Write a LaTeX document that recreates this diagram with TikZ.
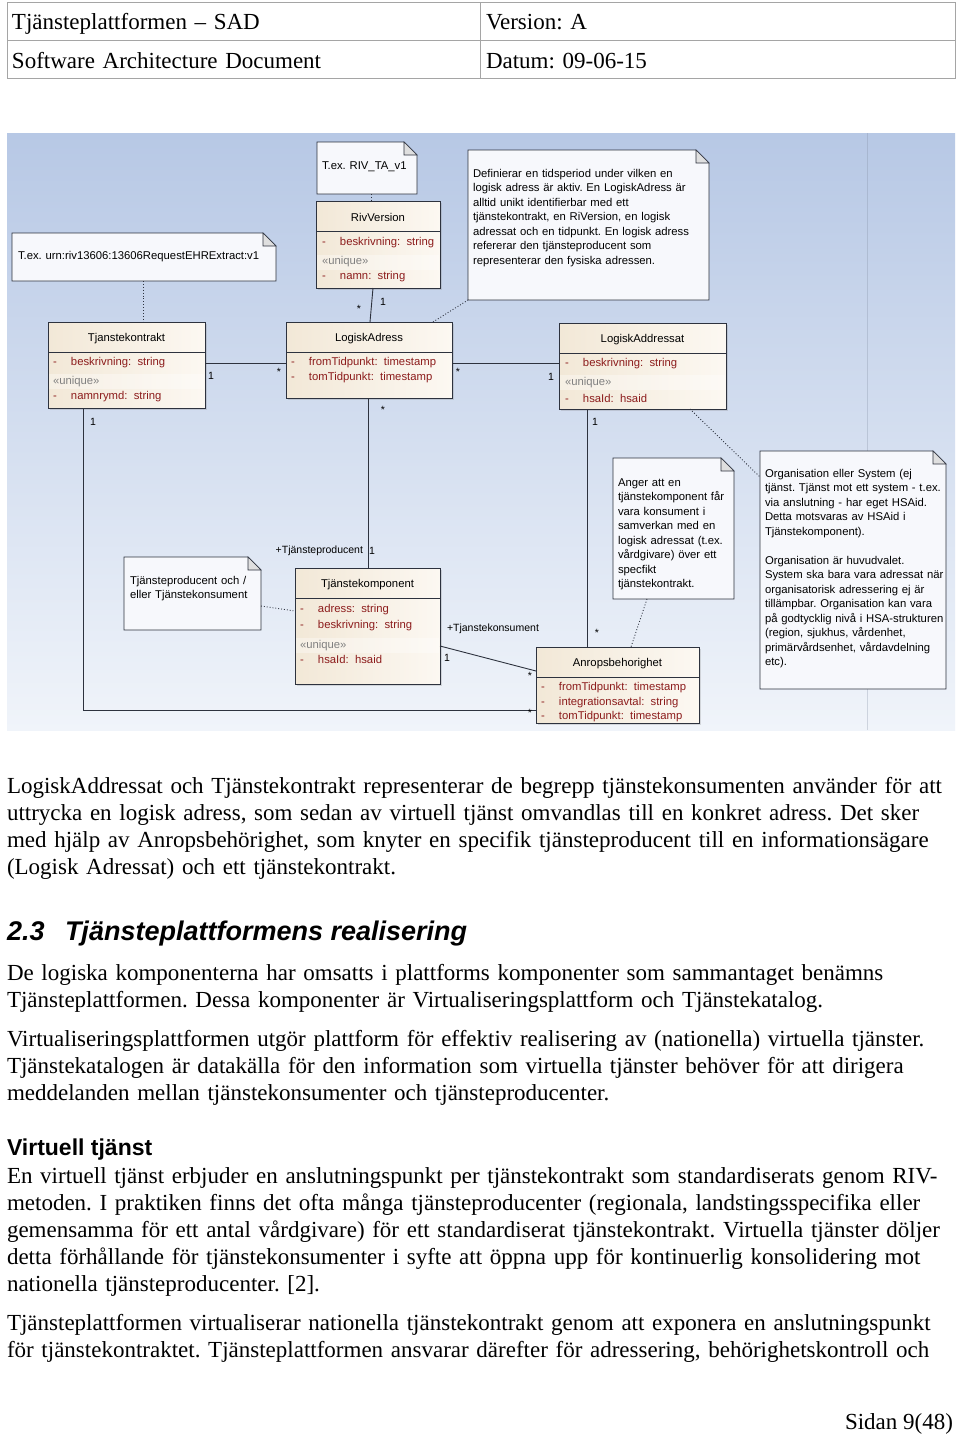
\documentclass[tikz,border=0pt]{standalone}
\usepackage{fontspec}
\setmainfont{Liberation Serif}
\setsansfont{Liberation Sans}
\usetikzlibrary{positioning, shadows}

\definecolor{bgtop}{RGB}{183,200,229}
\definecolor{bgbot}{RGB}{240,244,250}
\definecolor{classa}{RGB}{242,232,215}
\definecolor{classb}{RGB}{252,248,242}
\definecolor{attrred}{RGB}{140,28,28}
\definecolor{notefill}{RGB}{247,248,252}
\definecolor{linecol}{RGB}{45,50,62}
\definecolor{tablegray}{RGB}{165,165,165}

\begin{document}
\frenchspacing
\begin{tikzpicture}[x=1pt, y=-1pt,
    every node/.style={inner sep=0pt, outer sep=0pt},
    body/.style={font=\frenchspacing\fontsize{23}{27}\selectfont, anchor=base west, align=left, text width=1000pt},
    dia/.style={font=\frenchspacing\sffamily\fontsize{11.3}{14.5}\selectfont},
    attr/.style={dia, text=attrred, anchor=west},
    uniq/.style={dia, text=gray, anchor=west},
    mult/.style={font=\sffamily\fontsize{10.5}{12}\selectfont},
    notetext/.style={dia, anchor=base west, align=left, text width=250pt},
    classbox/.style={draw=linecol, line width=0.8pt, left color=classa, right color=classb, anchor=north west,
        drop shadow={shadow xshift=2pt, shadow yshift=-2pt, opacity=0.25}},
    assoc/.style={draw=linecol, line width=0.9pt},
    notelink/.style={draw=linecol, line width=0.9pt, dotted},
]
\useasboundingbox (0,0) rectangle (960,1435);
\fill[white] (0,0) rectangle (960,1435);

\def\umlclass#1#2#3#4#5#6{%
    \node[classbox, minimum width=#4, minimum height=#5] (#1) at (#2,#3) {};
    \draw[linecol, line width=0.8pt] ([yshift=-30pt]#1.north west) -- ([yshift=-30pt]#1.north east);
    \node[dia] (#1-name) at ([yshift=-16.5pt]#1.north) {#6};
}
\def\umlattr#1#2#3#4{\node[attr] (#1) at (#2,#3) {\makebox[18pt][l]{-}#4};}
\def\umlnote#1#2#3#4#5{%
    \node[minimum width=#4, minimum height=#5, anchor=north west] (#1) at (#2,#3) {};
    \filldraw[draw=linecol, fill=notefill, line width=0.8pt] (#1.north west) -- ([xshift=-13pt]#1.north east)
        -- ([yshift=-13pt]#1.north east) -- (#1.south east) -- (#1.south west) -- cycle;
    \filldraw[draw=linecol, fill=gray!25, line width=0.6pt] ([xshift=-13pt]#1.north east)
        -- ([xshift=-13pt,yshift=-13pt]#1.north east) -- ([yshift=-13pt]#1.north east) -- cycle;
}

% header table
\draw[tablegray, line width=0.8pt] (7,2) rectangle (955,78);
\draw[tablegray, line width=0.8pt] (7,40) -- (955,40);
\draw[tablegray, line width=0.8pt] (480,2) -- (480,78);
\node[body] (doctitle) at (12,29) {Tjänsteplattformen – SAD};
\node[body] (docversion) at (486,29) {Version: A};
\node[body] (docname) at (12,68) {Software Architecture Document};
\node[body] (docdate) at (486,68) {Datum: 09-06-15};

% diagram background
\shade[top color=bgtop, bottom color=bgbot] (7,133) rectangle (955,730);
\draw[bgtop!70!black, opacity=0.3] (867,133) -- (867,730);

% notes
\umlnote{rivnote}{317}{142}{100}{52}
\node[notetext] (rivnote-text) at (322,169) {T.ex. RIV\_TA\_v1};
\umlnote{urnnote}{12}{233}{264}{48}
\node[notetext] (urnnote-text) at (18,259) {T.ex. urn:riv13606:13606RequestEHRExtract:v1};
\umlnote{adrnote}{468}{150}{241}{150}
\node[notetext] (adrnote-text) at (473,177) {Definierar en tidsperiod under vilken en\\
    logisk adress är aktiv. En LogiskAdress är\\
    alltid unikt identifierbar med ett\\
    tjänstekontrakt, en RiVersion, en logisk\\
    adressat och en tidpunkt. En logisk adress\\
    refererar den tjänsteproducent som\\
    representerar den fysiska adressen.};
\umlnote{prodnote}{124}{557}{137}{73}
\node[notetext] (prodnote-text) at (130,584) {Tjänsteproducent och /\\eller Tjänstekonsument};
\umlnote{angnote}{613}{458}{121}{141}
\node[notetext] (angnote-text) at (618,486) {Anger att en\\
    tjänstekomponent får\\
    vara konsument i\\
    samverkan med en\\
    logisk adressat (t.ex.\\
    vårdgivare) över ett\\
    specfikt\\
    tjänstekontrakt.};
\umlnote{orgnote}{760}{451}{186}{238}
\node[notetext] (orgnote-text) at (765,477) {Organisation eller System (ej\\
    tjänst. Tjänst mot ett system - t.ex.\\
    via anslutning - har eget HSAid.\\
    Detta motsvaras av HSAid i\\
    Tjänstekomponent).\\[14.5pt]
    Organisation är huvudvalet.\\
    System ska bara vara adressat när\\
    organisatorisk adressering ej är\\
    tillämpbar. Organisation kan vara\\
    på godtycklig nivå i HSA-strukturen\\
    (region, sjukhus, vårdenhet,\\
    primärvårdsenhet, vårdavdelning\\
    etc).};

% classes
\umlclass{rv}{316}{201}{124}{87}{RivVersion}
\fill[white, opacity=0.35] (317,255) rectangle (439,270);
\umlattr{rv-a1}{322}{243}{beskrivning:\ \ string}
\node[uniq] (rv-u) at (322,262) {«unique»};
\umlattr{rv-a2}{322}{277}{namn:\ \ string}

\umlclass{tk}{48}{322}{157}{86}{Tjanstekontrakt}
\fill[white, opacity=0.35] (49,374) rectangle (204,389);
\umlattr{tk-a1}{53}{363}{beskrivning:\ \ string}
\node[uniq] (tk-u) at (53,382) {«unique»};
\umlattr{tk-a2}{53}{397}{namnrymd:\ \ string}

\umlclass{la}{286}{322}{166}{76}{LogiskAdress}
\umlattr{la-a1}{291}{363}{fromTidpunkt:\ \ timestamp}
\umlattr{la-a2}{291}{378}{tomTidpunkt:\ \ timestamp}

\umlclass{lad}{559}{323}{167}{86}{LogiskAddressat}
\fill[white, opacity=0.35] (560,375) rectangle (725,390);
\umlattr{lad-a1}{565}{364}{beskrivning:\ \ string}
\node[uniq] (lad-u) at (565,383) {«unique»};
\umlattr{lad-a2}{565}{398}{hsaId:\ \ hsaid}

\umlclass{tkomp}{295}{568}{145}{116}{Tjänstekomponent}
\fill[white, opacity=0.35] (296,638) rectangle (439,653);
\umlattr{tkomp-a1}{300}{610}{adress:\ \ string}
\umlattr{tkomp-a2}{300}{626}{beskrivning:\ \ string}
\node[uniq] (tkomp-u) at (300,646) {«unique»};
\umlattr{tkomp-a3}{300}{659}{hsaId:\ \ hsaid}

\umlclass{ab}{536}{647}{163}{76}{Anropsbehorighet}
\umlattr{ab-a1}{541}{688}{fromTidpunkt:\ \ timestamp}
\umlattr{ab-a2}{541}{703}{integrationsavtal:\ \ string}
\umlattr{ab-a3}{541}{717}{tomTidpunkt:\ \ timestamp}

% note links
\draw[notelink] ([xshift=54pt]rivnote.south west) -- ([xshift=55pt]rv.north west);
\draw[notelink] ([xshift=131pt]urnnote.south west) -- ([xshift=95pt]tk.north west);
\draw[notelink] ([xshift=147pt]la.north west) -- (adrnote.south west);
\draw[notelink] ([xshift=-36pt]lad.south east) -- ([yshift=-26pt]orgnote.north west);
\draw[notelink] ([yshift=-49pt]prodnote.north east) -- ([yshift=-43pt]tkomp.north west);
\draw[notelink] ([xshift=34pt]angnote.south west) -- ([xshift=95pt]ab.north west);

% associations
\draw[assoc] ([xshift=57pt]rv.south west) -- ([xshift=84pt]la.north west);
\node[mult] (rv-m1) at (359,309) {*};
\node[mult] (rv-m2) at (383,302) {1};
\draw[assoc] ([yshift=-41pt]tk.north east) -- ([yshift=-41pt]la.north west);
\node[mult] (tk-m1) at (211,376) {1};
\node[mult] (la-m1) at (279,372) {*};
\draw[assoc] ([yshift=-41pt]la.north east) -- ([yshift=-40pt]lad.north west);
\node[mult] (la-m2) at (458,372) {*};
\node[mult] (lad-m1) at (551,377) {1};
\draw[assoc] ([xshift=35pt]tk.south west) |- ([yshift=-63pt]ab.north west);
\node[mult] (tk-m2) at (93,422) {1};
\node[mult] (ab-m1) at (530,713) {*};
\draw[assoc] ([xshift=82pt]la.south west) -- ([xshift=73pt]tkomp.north west);
\node[mult] (la-m3) at (383,410) {*};
\node[mult, anchor=east] (prod-role) at (363,551) {+Tjänsteproducent};
\node[mult] (tkomp-m1) at (372,551) {1};
\draw[assoc] ([xshift=28pt]lad.south west) -- ([xshift=51pt]ab.north west);
\node[mult] (lad-m2) at (595,422) {1};
\node[mult] (ab-m2) at (597,633) {*};
\draw[assoc] ([yshift=-78pt]tkomp.north east) -- ([yshift=-24pt]ab.north west);
\node[mult, anchor=west] (kons-role) at (447,629) {+Tjanstekonsument};
\node[mult] (tkomp-m2) at (447,658) {1};
\node[mult] (ab-m3) at (530,676) {*};

% text of the page
\node[body] (para1) at (7,793) {LogiskAddressat och Tjänstekontrakt representerar de begrepp tjänstekonsumenten använder för att\\
    uttrycka en logisk adress, som sedan av virtuell tjänst omvandlas till en konkret adress. Det sker\\
    med hjälp av Anropsbehörighet, som knyter en specifik tjänsteproducent till en informationsägare\\
    (Logisk Adressat) och ett tjänstekontrakt.};
\node[anchor=base west, font=\sffamily\bfseries\itshape\fontsize{27}{32}\selectfont] (secnum) at (7,940) {2.3};
\node[anchor=base west, font=\sffamily\bfseries\itshape\fontsize{27}{32}\selectfont] (sectitle) at (65,940) {Tjänsteplattformens realisering};
\node[body] (para2) at (7,980) {De logiska komponenterna har omsatts i plattforms komponenter som sammantaget benämns\\
    Tjänsteplattformen. Dessa komponenter är Virtualiseringsplattform och Tjänstekatalog.};
\node[body] (para3) at (7,1046) {Virtualiseringsplattformen utgör plattform för effektiv realisering av (nationella) virtuella tjänster.\\
    Tjänstekatalogen är datakälla för den information som virtuella tjänster behöver för att dirigera\\
    meddelanden mellan tjänstekonsumenter och tjänsteproducenter.};
\node[anchor=base west, font=\sffamily\bfseries\fontsize{23}{27}\selectfont] (subhead) at (7,1155) {Virtuell tjänst};
\node[body] (para4) at (7,1183) {En virtuell tjänst erbjuder en anslutningspunkt per tjänstekontrakt som standardiserats genom RIV-\\
    metoden. I praktiken finns det ofta många tjänsteproducenter (regionala, landstingsspecifika eller\\
    gemensamma för ett antal vårdgivare) för ett standardiserat tjänstekontrakt. Virtuella tjänster döljer\\
    detta förhållande för tjänstekonsumenter i syfte att öppna upp för kontinuerlig konsolidering mot\\
    nationella tjänsteproducenter. [2].};
\node[body] (para5) at (7,1330) {Tjänsteplattformen virtualiserar nationella tjänstekontrakt genom att exponera en anslutningspunkt\\
    för tjänstekontraktet. Tjänsteplattformen ansvarar därefter för adressering, behörighetskontroll och};
\node[anchor=base east, font=\fontsize{23}{27}\selectfont] (pagenum) at (953,1429) {Sidan 9(48)};
\end{tikzpicture}
\end{document}
